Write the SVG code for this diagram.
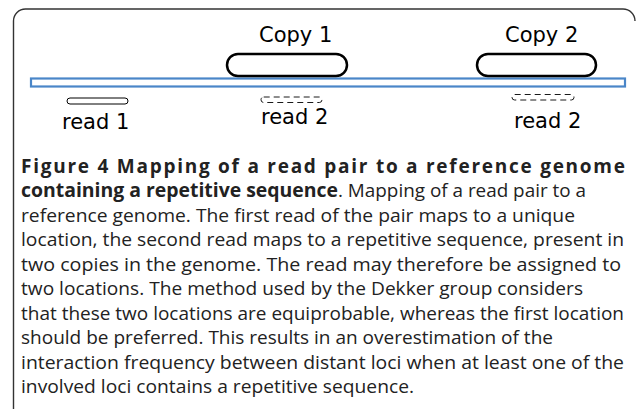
<svg xmlns="http://www.w3.org/2000/svg" width="636" height="409" viewBox="0 0 636 409">
<style>
.frame{fill:none;stroke:#333;stroke-width:1.4}
.genome{fill:#fff;stroke:#4a86c8;stroke-width:2.2}
.copy{fill:#fff;stroke:#000;stroke-width:2.5}
.read{fill:#fff;stroke:#000;stroke-width:1}
.dash{fill:#fff;stroke:#000;stroke-width:0.9;stroke-dasharray:6 4}
.lbl{font-family:"DejaVu Sans",sans-serif;font-size:21px;fill:#000}
.cap{font-family:"Open Sans","Liberation Sans",sans-serif;font-size:19px;fill:#222}
.b{font-weight:bold}
</style>
<rect width="636" height="409" fill="#fff"/>
<path class="frame" d="M13.5,409 V21 A12,12 0 0 1 25.5,9 H623 A12,12 0 0 1 635,21"/>
<g id="genome"><rect class="genome" x="31" y="78.5" width="594" height="8"/></g>
<g id="copy1"><rect class="copy" x="227" y="54" width="120" height="22" rx="11"/><text class="lbl" x="259" y="42">Copy 1</text></g>
<g id="copy2"><rect class="copy" x="477" y="54" width="119" height="22" rx="11"/><text class="lbl" x="505" y="42">Copy 2</text></g>
<g id="read1"><rect class="read" x="67" y="98" width="61" height="6" rx="3"/><text class="lbl" x="62" y="129">read 1</text></g>
<g id="read2a"><rect class="dash" x="261" y="97" width="61" height="5.5" rx="2.7"/><text class="lbl" x="261" y="124">read 2</text></g>
<g id="read2b"><rect class="dash" x="512" y="94.5" width="62" height="5.5" rx="2.7"/><text class="lbl" x="514" y="128">read 2</text></g>
<g id="connectors"></g>
<g id="caption">
<text class="cap b" x="21" y="172.5" textLength="604" lengthAdjust="spacing">Figure 4 Mapping of a read pair to a reference genome</text>
<text class="cap b" x="21" y="197" textLength="317" lengthAdjust="spacingAndGlyphs">containing a repetitive sequence</text>
<text class="cap" x="338" y="197" textLength="248" lengthAdjust="spacingAndGlyphs">. Mapping of a read pair to a</text>
<text class="cap" x="21" y="221.5" textLength="554" lengthAdjust="spacingAndGlyphs">reference genome. The first read of the pair maps to a unique</text>
<text class="cap" x="21" y="246" textLength="603" lengthAdjust="spacingAndGlyphs">location, the second read maps to a repetitive sequence, present in</text>
<text class="cap" x="21" y="270.5" textLength="600" lengthAdjust="spacingAndGlyphs">two copies in the genome. The read may therefore be assigned to</text>
<text class="cap" x="21" y="295" textLength="562" lengthAdjust="spacingAndGlyphs">two locations. The method used by the Dekker group considers</text>
<text class="cap" x="21" y="319.5" textLength="603" lengthAdjust="spacingAndGlyphs">that these two locations are equiprobable, whereas the first location</text>
<text class="cap" x="21" y="344" textLength="532" lengthAdjust="spacingAndGlyphs">should be preferred. This results in an overestimation of the</text>
<text class="cap" x="21" y="368.5" textLength="603" lengthAdjust="spacingAndGlyphs">interaction frequency between distant loci when at least one of the</text>
<text class="cap" x="21" y="393" textLength="393" lengthAdjust="spacingAndGlyphs">involved loci contains a repetitive sequence.</text>
</g>
</svg>
